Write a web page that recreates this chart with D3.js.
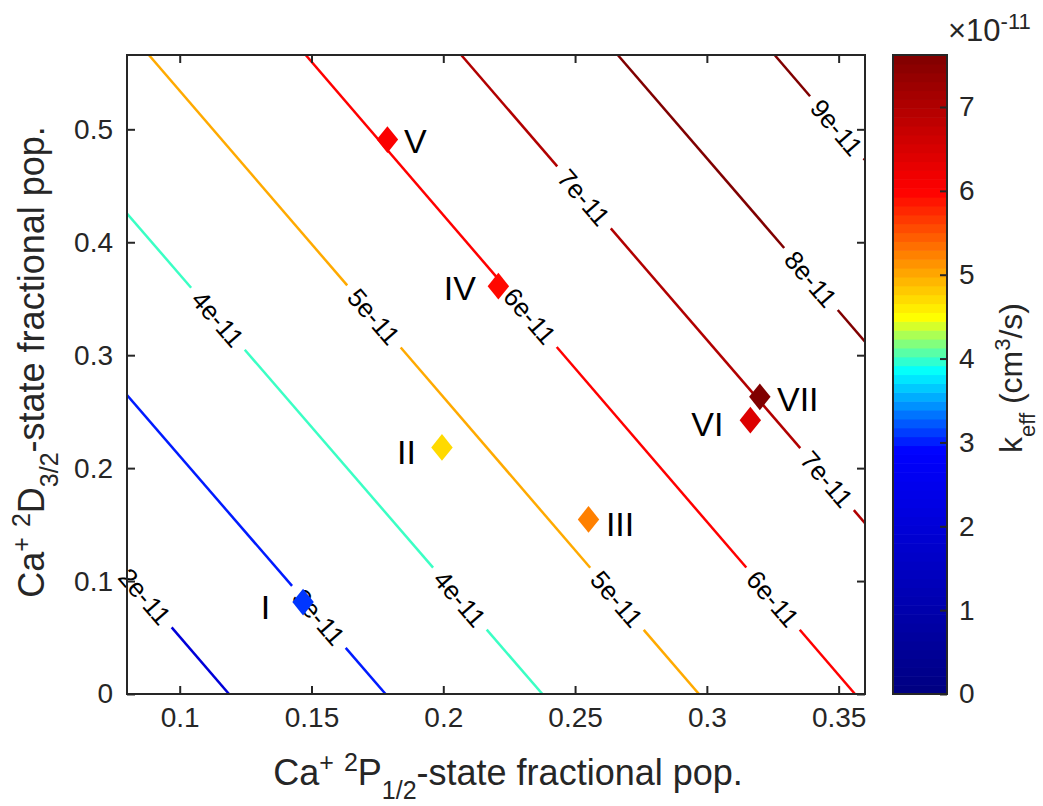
<!DOCTYPE html>
<html>
<head>
<meta charset="utf-8">
<script src="https://cdn.jsdelivr.net/npm/d3@7"></script>
<style>
body { margin: 0; background: #fff; }
text { font-family: "Liberation Sans", Arial, sans-serif; }
</style>
</head>
<body>
<script>
// contour levels (x 1e-11 cm^3/s) and where each straight contour meets the frame
var levels = [2, 3, 4, 5, 6, 7, 8, 9];
var lineStart = [[0.08, 0.105], [0.08, 0.2646], [0.08, 0.4254], [0.0883, 0.5658],
    [0.1478, 0.5658], [0.2068, 0.5658], [0.2662, 0.5658], [0.3257, 0.5658]];
var lineEnd = [[0.1187, 0], [0.1781, 0], [0.2376, 0], [0.297, 0],
    [0.3562, 0], [0.36, 0.1513], [0.36, 0.312], [0.36, 0.4728]];
// x position of each inline label along its contour
var labelAt = [[0.0868], [0.1528], [0.1145, 0.2063], [0.1737, 0.2659],
    [0.2329, 0.3251], [0.2534, 0.3456], [0.3395], [0.3493]];

// measured points
var pointNames = ["I", "II", "III", "IV", "V", "VI", "VII"];
var pointX = [0.1468, 0.1995, 0.2551, 0.2209, 0.1788, 0.3165, 0.3201];
var pointY = [0.0814, 0.2183, 0.1546, 0.3611, 0.4909, 0.2425, 0.2631];
var pointK = [3.1, 4.72, 5.25, 5.95, 6.05, 6.45, 7.62];
var nameX = [0.1343, 0.1896, 0.2617, 0.2124, 0.1851, 0.3063, 0.3266];
var nameY = [0.0774, 0.2143, 0.1509, 0.3597, 0.4896, 0.2394, 0.2615];
var nameSide = ["end", "end", "start", "end", "start", "end", "start"];

var xTicks = [0.1, 0.15, 0.2, 0.25, 0.3, 0.35];
var yTicks = [0, 0.1, 0.2, 0.3, 0.4, 0.5];
var cbTicks = [0, 1, 2, 3, 4, 5, 6, 7];
var cbMax = 7.62;
var cmapStops = [0, 2.9, 3.85, 4.5, 6.0, 7.62];
var cmapColors = ["#000080", "#0000ff", "#00ffff", "#ffff00", "#ff0000", "#800000"];

var W = 1043, H = 806;
var margin = {top: 55, left: 127},
    width = 738,
    height = 639;
var axisColor = "#262626";
var tickFont = 28;

var svg = d3.select("body").append("svg")
    .attr("width", W)
    .attr("height", H);

var x = d3.scaleLinear().domain([0.08, 0.36]).range([0, width]);
var y = d3.scaleLinear().domain([0, 0.5658]).range([height, 0]);

var color = d3.scaleLinear().domain(cmapStops).range(cmapColors).clamp(true);

var g = svg.append("g")
    .attr("transform", "translate(" + margin.left + "," + margin.top + ")");

g.append("clipPath").attr("id", "clip")
    .append("rect").attr("width", width).attr("height", height);

// contour lines with gaps for labels
var gap = 41;
var lines = g.append("g").attr("clip-path", "url(#clip)");
var labels = g.append("g");

levels.forEach(function (lv, i) {
    var p0 = [x(lineStart[i][0]), y(lineStart[i][1])],
        p1 = [x(lineEnd[i][0]), y(lineEnd[i][1])];
    var L = Math.hypot(p1[0] - p0[0], p1[1] - p0[1]);
    var ux = (p1[0] - p0[0]) / L, uy = (p1[1] - p0[1]) / L;
    var ang = Math.atan2(uy, ux) * 180 / Math.PI;
    var breaks = [];
    labelAt[i].forEach(function (lx) {
        var t = (lx - lineStart[i][0]) / (lineEnd[i][0] - lineStart[i][0]) * L;
        breaks.push([t - gap, t + gap]);
        labels.append("text")
            .attr("transform", "translate(" + (p0[0] + ux * t) + "," + (p0[1] + uy * t) + ") rotate(" + ang + ")")
            .attr("text-anchor", "middle")
            .attr("dy", "0.36em")
            .attr("font-size", 26)
            .attr("fill", "#000")
            .text(lv + "e-11");
    });
    var pos = 0, segs = [];
    breaks.forEach(function (b) {
        if (b[0] > pos) segs.push([pos, b[0]]);
        pos = Math.max(pos, b[1]);
    });
    if (pos < L) segs.push([pos, L]);
    segs.forEach(function (s) {
        lines.append("line")
            .attr("x1", p0[0] + ux * s[0]).attr("y1", p0[1] + uy * s[0])
            .attr("x2", p0[0] + ux * s[1]).attr("y2", p0[1] + uy * s[1])
            .attr("stroke", color(lv))
            .attr("stroke-width", 2.5);
    });
});

// frame and ticks
g.append("rect")
    .attr("width", width).attr("height", height)
    .attr("fill", "none").attr("stroke", axisColor).attr("stroke-width", 2);

var xAxis = g.append("g")
    .attr("transform", "translate(0," + height + ")")
    .call(d3.axisBottom(x).tickValues(xTicks).tickSizeInner(-8).tickSizeOuter(0).tickPadding(13).tickFormat(d3.format("")));
var xTop = g.append("g")
    .call(d3.axisTop(x).tickValues(xTicks).tickSizeInner(-8).tickSizeOuter(0).tickFormat(""));
var yAxis = g.append("g")
    .call(d3.axisLeft(y).tickValues(yTicks).tickSizeInner(-8).tickSizeOuter(0).tickPadding(14).tickFormat(d3.format("")));
var yRight = g.append("g")
    .attr("transform", "translate(" + width + ",0)")
    .call(d3.axisRight(y).tickValues(yTicks).tickSizeInner(-8).tickSizeOuter(0).tickFormat(""));

[xAxis, xTop, yAxis, yRight].forEach(function (a) {
    a.select(".domain").remove();
    a.selectAll(".tick line").attr("stroke", axisColor).attr("stroke-width", 2);
    a.selectAll(".tick text").attr("fill", axisColor).attr("font-size", tickFont);
});

// points and names
g.selectAll(".pt")
    .data(pointNames)
    .enter().append("path")
    .attr("class", "pt")
    .attr("d", d3.symbol().type(d3.symbolSquare).size(230))
    .attr("transform", function (d, i) {
        return "translate(" + x(pointX[i]) + "," + y(pointY[i]) + ") scale(1,1.25) rotate(45)";
    })
    .attr("fill", function (d, i) { return color(pointK[i]); });

g.selectAll(".nm")
    .data(pointNames)
    .enter().append("text")
    .attr("class", "nm")
    .attr("x", function (d, i) { return x(nameX[i]); })
    .attr("y", function (d, i) { return y(nameY[i]); })
    .attr("dy", "0.36em")
    .attr("text-anchor", function (d, i) { return nameSide[i]; })
    .attr("font-size", 34)
    .attr("fill", "#000")
    .text(function (d) { return d; });

// axis labels
function stateLabel(sel, letter, sub) {
    sel.append("tspan").text("Ca");
    sel.append("tspan").attr("baseline-shift", "super").attr("font-size", 25).text("+");
    sel.append("tspan").text(" ");
    sel.append("tspan").attr("baseline-shift", "super").attr("font-size", 25).text("2");
    sel.append("tspan").text(letter);
    sel.append("tspan").attr("baseline-shift", "sub").attr("font-size", 25).text(sub);
    sel.append("tspan").text("-state fractional pop.");
}

var xl = svg.append("text")
    .attr("x", 508)
    .attr("y", 785)
    .attr("text-anchor", "middle")
    .attr("font-size", 36)
    .attr("fill", axisColor);
stateLabel(xl, "P", "1/2");

var yl = svg.append("text")
    .attr("transform", "translate(44,362) rotate(-90)")
    .attr("text-anchor", "middle")
    .attr("font-size", 36)
    .attr("fill", axisColor);
stateLabel(yl, "D", "3/2");

// colorbar
var cbX = 893, cbW = 54;
var cb = svg.append("g").attr("transform", "translate(" + cbX + "," + margin.top + ")");
var cy = d3.scaleLinear().domain([0, cbMax]).range([height, 0]);
var nBands = 72;
var bands = d3.range(nBands).map(function (i) { return [cbMax * i / nBands, cbMax * (i + 1) / nBands]; });
cb.selectAll(".band")
    .data(bands)
    .enter().append("rect")
    .attr("class", "band")
    .attr("x", 0)
    .attr("width", cbW)
    .attr("y", function (d) { return cy(d[1]); })
    .attr("height", function (d) { return cy(d[0]) - cy(d[1]) + 0.6; })
    .attr("fill", function (d) { return color((d[0] + d[1]) / 2); });
cb.append("rect")
    .attr("width", cbW).attr("height", height)
    .attr("fill", "none").attr("stroke", axisColor).attr("stroke-width", 2);
var cbAxis = cb.append("g")
    .attr("transform", "translate(" + cbW + ",0)")
    .call(d3.axisRight(cy).tickValues(cbTicks).tickSizeInner(-7).tickSizeOuter(0).tickPadding(12).tickFormat(d3.format("d")));
cbAxis.select(".domain").remove();
cbAxis.selectAll(".tick line").attr("stroke", axisColor).attr("stroke-width", 2);
cbAxis.selectAll(".tick text").attr("fill", axisColor).attr("font-size", tickFont);

var ex = svg.append("text")
    .attr("x", 948).attr("y", 41)
    .attr("font-size", 31)
    .attr("fill", axisColor);
ex.append("tspan").text("\u00d710");
ex.append("tspan").attr("baseline-shift", "super").attr("font-size", 22).text("-11");

var kl = svg.append("text")
    .attr("transform", "translate(1022,378) rotate(-90)")
    .attr("text-anchor", "middle")
    .attr("font-size", 32)
    .attr("fill", axisColor);
kl.append("tspan").text("k");
kl.append("tspan").attr("baseline-shift", "sub").attr("font-size", 22).text("eff");
kl.append("tspan").text(" (cm");
kl.append("tspan").attr("baseline-shift", "super").attr("font-size", 22).text("3");
kl.append("tspan").text("/s)");
</script>
</body>
</html>
